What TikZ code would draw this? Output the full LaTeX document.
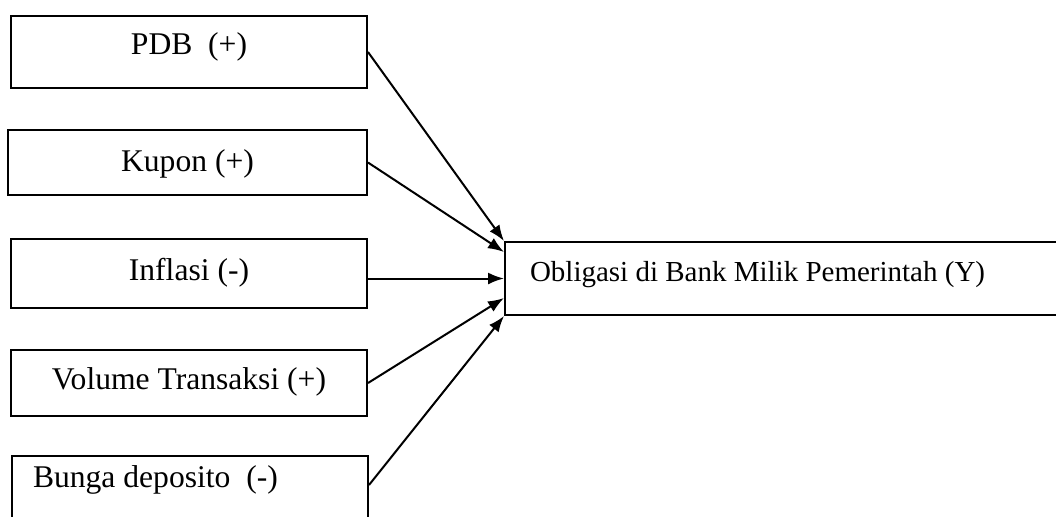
\documentclass[tikz,border=0pt]{standalone}
\usepackage{fontspec}
\setmainfont{Liberation Serif}
\usetikzlibrary{arrows.meta}
\tikzset{>={Latex[length=8pt,width=6pt]}}

\begin{document}
\begin{tikzpicture}[x=0.5pt,y=-0.5pt,line width=1pt,
    var/.style={draw,rectangle,anchor=north,inner ysep=0pt,inner xsep=0pt,minimum width=178pt,font=\fontsize{15.8}{19}\selectfont},
    hasil/.style={draw,rectangle,inner ysep=0pt,inner xsep=12.5pt,font=\fontsize{14.5}{17}\selectfont}]
		\useasboundingbox (0,0) rectangle (1056,516);
		\clip (0,0) rectangle (1056,516);
		% Variabel bebas
		\node[var,text height=19pt,text depth=17pt] (pdb) at (189,15) {PDB\ \ (+)};
		\node[var,minimum width=179.5pt,text height=20.5pt,text depth=12pt] (kupon) at (187.5,129) {Kupon (+)};
		\node[var,text height=20.5pt,text depth=14pt] (inflasi) at (189,238) {Inflasi (-)};
		\node[var,text height=19.5pt,text depth=13.5pt] (volume) at (189,349) {Volume Transaksi (+)};
		\node[var,anchor=north west,inner xsep=10.5pt,text width=157pt,align=flush left,
		      text height=15.5pt,text depth=30pt] (bunga) at (11,455) {Bunga deposito\ \ (-)};
		% Variabel terikat
		\node[hasil,anchor=north west,text height=19.5pt,text depth=17pt,text width=260pt,align=flush left] (obligasi) at (504,241)
		      {Obligasi di Bank Milik Pemerintah (Y)};
		% Panah
		\draw[->] (pdb.east) -- (obligasi.north west);
		\draw[->] (kupon.east) -- ([yshift=-5.5pt]obligasi.north west);
		\draw[->] (inflasi.east |- obligasi.west) -- (obligasi.west);
		\draw[->] (volume.east) -- ([yshift=9pt]obligasi.south west);
		\draw[->] ([yshift=-15pt]bunga.north east) -- (obligasi.south west);
\end{tikzpicture}
\end{document}
